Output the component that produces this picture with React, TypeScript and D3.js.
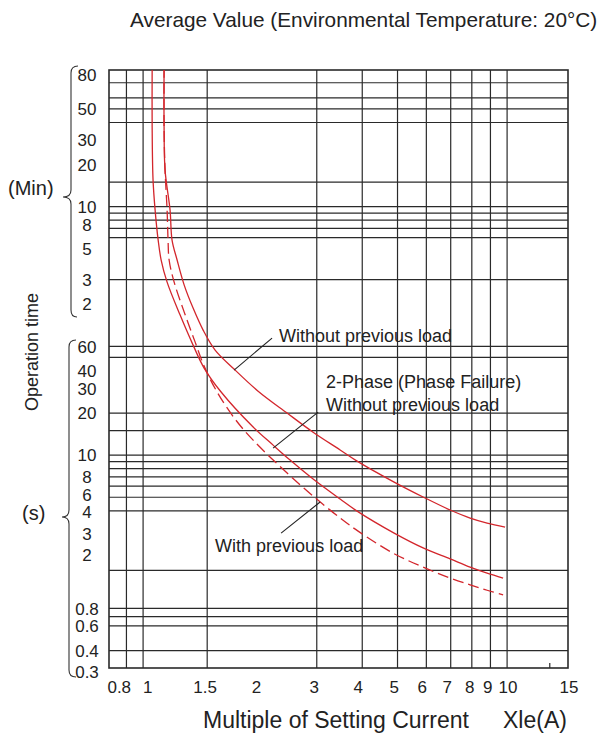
import React from 'react'
import * as d3 from 'd3'

// multiple of setting current (x) and operation time in seconds (y)
const currentA = [1.142, 1.142, 1.149, 1.186, 1.201, 1.24, 1.297, 1.372, 1.462, 1.577, 1.778, 2.07, 2.487, 2.931, 3.478, 3.871, 4.894, 5.878, 6.974, 7.915, 8.812, 9.874]
const timeA = [6000, 2223, 1095, 567, 346, 249, 164.7, 112.8, 78.5, 56.5, 41.3, 28.7, 20.0, 14.6, 10.9, 9.07, 6.42, 5.02, 4.05, 3.55, 3.27, 3.06]

const currentB = [1.059, 1.059, 1.065, 1.079, 1.1, 1.121, 1.164, 1.264, 1.372, 1.471, 1.638, 2.006, 2.276, 2.534, 2.931, 3.478, 3.871, 4.894, 5.878, 6.974, 7.915, 8.812, 9.75]
const timeB = [6000, 2223, 929, 567, 346, 249, 173, 100.5, 61.3, 42.0, 28.3, 15.9, 11.8, 9.22, 6.75, 4.85, 3.98, 2.77, 2.17, 1.81, 1.58, 1.43, 1.32]

const currentC = [1.142, 1.142, 1.149, 1.164, 1.171, 1.179, 1.217, 1.297, 1.39, 1.471, 1.597, 1.79, 2.006, 2.487, 2.931, 3.478, 3.896, 4.863, 5.878, 6.974, 7.915, 8.812, 9.75]
const timeC = [6000, 2223, 1095, 567, 346, 249, 173, 105.6, 64.4, 43.4, 28.3, 18.1, 12.8, 7.45, 5.1, 3.55, 2.86, 1.99, 1.58, 1.32, 1.18, 1.08, 1.0]

// grid
const xGrid = [0.9, 1, 1.5, 3, 4, 5, 6, 7, 8, 9, 10]
const yGridMin = [77, 60, 50, 40, 15, 10, 9, 8, 7, 6, 3]
const yGridSec = [60, 50, 20, 15, 10, 9, 8, 7, 6, 5, 4, 1.5, 0.8, 0.7, 0.6, 0.4]

// tick labels and where they sit
const xLabels = ['0.8', '1', '1.5', '2', '3', '4', '5', '6', '7', '8', '9', '10', '15']
const xLabelAt = [0.86, 1.03, 1.48, 2.05, 2.95, 3.9, 4.9, 5.85, 6.85, 7.9, 8.85, 10.05, 14.8]
const minLabels = ['80', '50', '30', '20', '10', '8', '5', '3', '2']
const minLabelAt = [87, 50, 30, 20, 10, 7.4, 5, 3, 2]
const secLabels = ['60', '40', '30', '20', '10', '8', '6', '4', '3', '2', '0.8', '0.6', '0.4', '0.3']
const secLabelAt = [60, 40, 30, 20, 10, 7, 5.2, 3.9, 2.75, 1.95, 0.8, 0.6, 0.4, 0.28]

// annotations
const noteText = ['Without previous load', '2-Phase (Phase Failure)', 'Without previous load', 'With previous load']
const noteCurrent = [2.363, 3.182, 3.182, 1.577]
const noteTime = [64.5, 30.2, 20.7, 2.03]
const leaderCurrent = [[1.778, 2.261], [2.276, 3.026], [3.064, 2.394]]
const leaderTime = [[40.6, 68.8], [11.24, 20.3], [4.62, 2.77]]

const W = 602
const H = 736
const margin = { top: 70, right: 34, bottom: 68, left: 109 }
const font = "'Liberation Sans', Arial, Helvetica, sans-serif"
const red = '#d3262c'
const ink = '#2a2a2a'

export default function App() {
    const x = d3.scaleLog().domain([0.806, 14.7]).range([margin.left, W - margin.right])
    const y = d3.scaleLog().domain([0.3, 5700]).range([H - margin.bottom, margin.top])

    const line = d3.line<number[]>()
        .x((d) => x(d[0]))
        .y((d) => y(d[1]))
        .curve(d3.curveCatmullRom.alpha(0.5))

    const pts = (c: number[], t: number[]) => c.map((v, i) => [v, t[i]])

    const x0 = margin.left
    const x1 = W - margin.right
    const y0 = margin.top
    const y1 = H - margin.bottom

    return (
        <div style={{ position: 'absolute', left: 0, top: 0 }}>
            <svg width={W} height={H} style={{ display: 'block', background: '#fff' }} fontFamily={font}>
                <defs>
                    <clipPath id="plot">
                        <rect x={x0} y={y0} width={x1 - x0} height={y1 - y0} />
                    </clipPath>
                </defs>

                <text x={130} y={27} fontSize={20.8} fill="#222">Average Value (Environmental Temperature: 20°C)</text>

                {/* grid */}
                {xGrid.map((v) => (
                    <line key={'vx' + v} x1={x(v)} x2={x(v)} y1={y0} y2={y1} stroke={ink} strokeWidth={1.2} />
                ))}
                {yGridMin.map((v) => (
                    <line key={'hm' + v} x1={x0} x2={x1} y1={y(v * 60)} y2={y(v * 60)} stroke={ink} strokeWidth={1.2} />
                ))}
                {yGridSec.map((v) => (
                    <line key={'hs' + v} x1={x0} x2={x1} y1={y(v)} y2={y(v)} stroke={ink} strokeWidth={1.2} />
                ))}
                <rect x={x0} y={y0} width={x1 - x0} height={y1 - y0} fill="none" stroke={ink} strokeWidth={1.6} />
                <line x1={x(13.1)} x2={x(13.1)} y1={y1 - 5} y2={y1} stroke={ink} strokeWidth={1.2} />

                {/* curves */}
                <g clipPath="url(#plot)" fill="none" stroke={red} strokeWidth={1.3}>
                    <path d={line(pts(currentA, timeA)) || ''} />
                    <path d={line(pts(currentB, timeB)) || ''} />
                    <path d={line(pts(currentC, timeC)) || ''} strokeDasharray="11,5" />
                </g>

                {/* leaders and notes */}
                {leaderCurrent.map((c, i) => (
                    <line key={'ld' + i} x1={x(c[0])} x2={x(c[1])} y1={y(leaderTime[i][0])} y2={y(leaderTime[i][1])} stroke="#222" strokeWidth={1.1} />
                ))}
                {noteText.map((t, i) => (
                    <text key={'nt' + i} x={x(noteCurrent[i])} y={y(noteTime[i])} fontSize={18} fill="#222">{t}</text>
                ))}

                {/* x labels */}
                {xLabels.map((t, i) => (
                    <text key={'xl' + i} x={x(xLabelAt[i])} y={693} fontSize={17} textAnchor="middle" fill="#222">{t}</text>
                ))}
                <text x={203} y={728} fontSize={23} fill="#222">Multiple of Setting Current</text>
                <text x={503} y={728} fontSize={23} fill="#222">Xle(A)</text>

                {/* y labels */}
                {minLabels.map((t, i) => (
                    <text key={'ml' + i} x={87} y={y(minLabelAt[i] * 60)} dy="0.36em" fontSize={17} textAnchor="middle" fill="#222">{t}</text>
                ))}
                {secLabels.map((t, i) => (
                    <text key={'sl' + i} x={87} y={y(secLabelAt[i])} dy="0.36em" fontSize={17} textAnchor="middle" fill="#222">{t}</text>
                ))}

                {/* braces */}
                <path d="M78,66 Q71,66 71,73 L71,190 Q71,197 63,197 Q71,197 71,204 L71,310 Q71,317 77,317" fill="none" stroke="#333" strokeWidth={1.1} />
                <path d="M76,340 Q69,340 69,347 L69,510 Q69,517 62,517 Q69,517 69,524 L69,670 Q69,677 76,677" fill="none" stroke="#333" strokeWidth={1.1} />
                <text x={8} y={195} fontSize={20} fill="#222">(Min)</text>
                <text x={22} y={520} fontSize={20} fill="#222">(s)</text>
                <text transform="translate(38,352) rotate(-90)" fontSize={18} textAnchor="middle" fill="#222">Operation time</text>
            </svg>
        </div>
    )
}
